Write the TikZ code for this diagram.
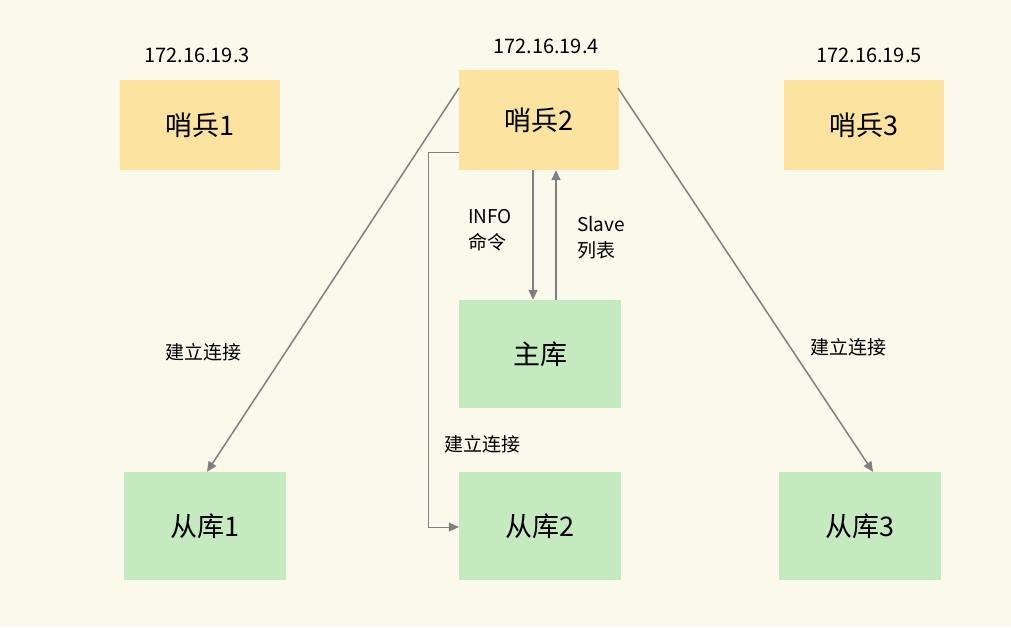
\documentclass[tikz,border=0pt]{standalone}
\usepackage{fontspec}
\setmainfont{Noto Sans CJK SC}
\usetikzlibrary{arrows.meta}
\definecolor{bg}{HTML}{FBF8EC}
\definecolor{ylw}{HTML}{FCE3A0}
\definecolor{grn}{HTML}{C5EAC0}
\definecolor{ln}{HTML}{808080}
\begin{document}
\begin{tikzpicture}[x=1pt,y=-1pt,
  box/.style={minimum width=160pt,minimum height=#1,inner sep=0pt,font=\fontsize{27}{32}\selectfont},
  sen/.style={box=90pt,fill=ylw},
  db/.style={box=108pt,fill=grn},
  ip/.style={font=\fontsize{20}{24}\selectfont},
  lbl/.style={font=\fontsize{19}{26}\selectfont,align=left},
  arr/.style={draw=ln,line width=1.5pt,-{Triangle[length=10pt,width=9pt]}}]
\fill[bg] (0,0) rectangle (1011,627);
\useasboundingbox (0,0) rectangle (1011,627);
\node[sen] (s1) at (200,125) {哨兵1};
\node[sen,minimum height=100pt] (s2) at (539,120) {哨兵2};
\node[sen] (s3) at (864,125) {哨兵3};
\node[ip] (ip1) at (197,55) {172.16.19.3};
\node[ip] (ip2) at (546,46) {172.16.19.4};
\node[ip] (ip3) at (869,55) {172.16.19.5};
\node[db,minimum width=162pt] (m) at (540,354) {主库};
\node[db,minimum width=162pt] (c1) at (205,526) {从库1};
\node[db,minimum width=162pt] (c2) at (540,526) {从库2};
\node[db,minimum width=162pt] (c3) at (860,526) {从库3};
\draw[arr] (459,88) -- (c1.north -| 207,0);
\draw[arr] (618,88) -- (c3.north -| 873,0);
\draw[arr] (s2.south -| 533,0) -- (m.north -| 533,0);
\draw[arr] (m.north -| 556,0) -- (s2.south -| 556,0);
\draw[arr,line width=1pt] (s2.west |- 0,152) -- (428,152) -- (428,527) -- (c2.west |- 0,527);
\node[lbl] (t1) at (490,230) {INFO\\命令};
\node[lbl] (t2) at (601,238) {Slave\\列表};
\node[lbl] (t3) at (203,352) {建立连接};
\node[lbl] (t4) at (482,444) {建立连接};
\node[lbl] (t5) at (848,347) {建立连接};
\end{tikzpicture}
\end{document}
